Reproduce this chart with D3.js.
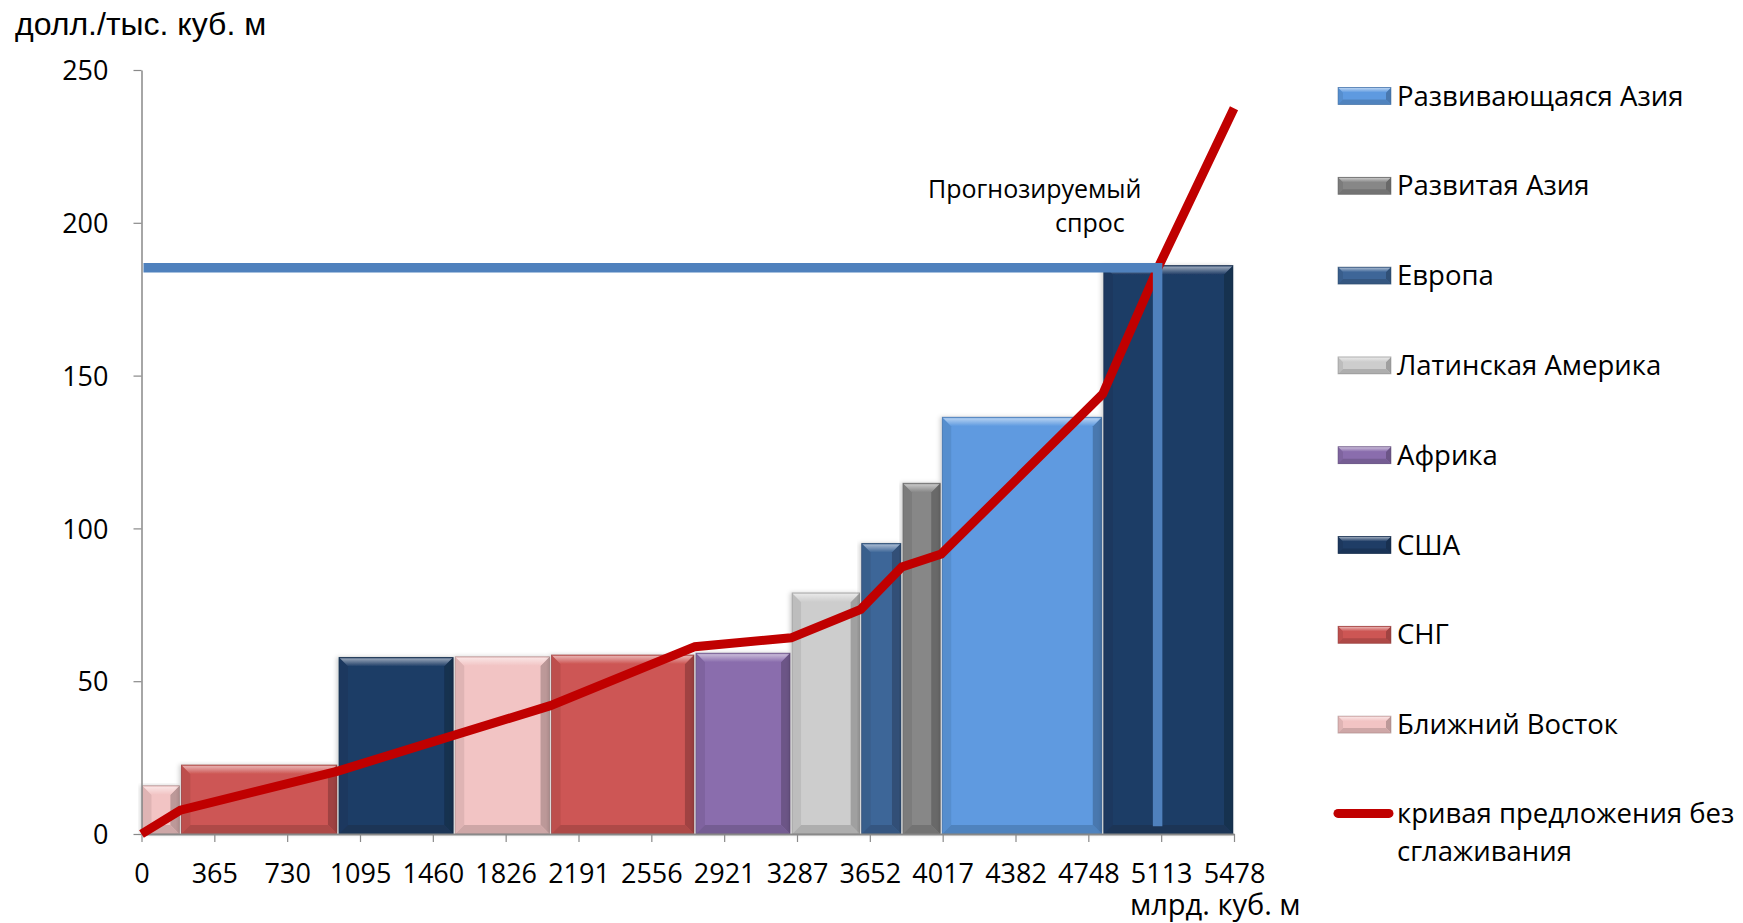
<!DOCTYPE html>
<html>
<head>
<meta charset="utf-8">
<script src="https://cdn.jsdelivr.net/npm/d3@7"></script>
<style>
  html, body { margin: 0; padding: 0; background: #ffffff; }
  svg { display: block; }
</style>
</head>
<body>
<script>
// ---------------- DATA ----------------
const regions = ["Ближний Восток", "СНГ", "США", "Ближний Восток", "СНГ", "Африка",
                 "Латинская Америка", "Европа", "Развитая Азия", "Развивающаяся Азия", "США"];
const volumes = [195, 790, 583, 483, 724, 482, 349, 207, 197, 810, 658];      // млрд. куб. м
const costs   = [15.8, 22.6, 57.8, 58.0, 58.6, 59.2, 78.9, 95.1, 114.8, 136.4, 186.0]; // долл./тыс. куб. м

const supplyX = [0, 195, 985, 2050, 2775, 3257, 3606, 3813, 4010, 4820, 5095, 5478];
const supplyY = [0, 7.8, 20.6, 42.0, 61.3, 64.2, 73.5, 87.4, 91.6, 144.0, 185.0, 237.5];

const demandX = [10, 5095, 5095];
const demandY = [185.3, 185.3, 2.5];

const xTickValues = [0, 365.2, 730.4, 1095.6, 1460.8, 1826, 2191.2, 2556.4, 2921.6, 3286.8, 3652, 4017.2, 4382.4, 4747.6, 5112.8, 5478];
const xTickLabels = ["0", "365", "730", "1095", "1460", "1826", "2191", "2556", "2921", "3287", "3652", "4017", "4382", "4748", "5113", "5478"];
const yTickValues = [0, 50, 100, 150, 200, 250];

const legendRegions = ["Развивающаяся Азия", "Развитая Азия", "Европа", "Латинская Америка",
                       "Африка", "США", "СНГ", "Ближний Восток"];
const regionColors  = ["#5E9AE0", "#878787", "#3E6698", "#CDCDCD",
                       "#8A6DAD", "#1F3D66", "#CD5654", "#F2C4C4"];
const supplyLabel = ["кривая предложения без", "сглаживания"];
const demandLabel = ["Прогнозируемый", "спрос"];
const yAxisTitle = "долл./тыс. куб. м";
const xAxisTitle = "млрд. куб. м";

// ---------------- SETUP ----------------
const W = 1743, H = 923;
const svg = d3.select("body").append("svg").attr("width", W).attr("height", H);
const defs = svg.append("defs");

const x = d3.scaleLinear().domain([0, 5478]).range([141.5, 1234]);
const y = d3.scaleLinear().domain([0, 250]).range([834, 70]);
const color = d3.scaleOrdinal().domain(legendRegions).range(regionColors);

const tickFont = "'Open Sans', 'Noto Sans', sans-serif";

// gradients per colour
regionColors.forEach((c, i) => {
  const light = d3.interpolateRgb(c, "#ffffff")(0.5);
  const g = defs.append("linearGradient").attr("id", "top" + i)
    .attr("x1", 0).attr("y1", 0).attr("x2", 0).attr("y2", 1);
  g.append("stop").attr("offset", "0%").attr("stop-color", d3.interpolateRgb(c, "#000")(0.05));
  g.append("stop").attr("offset", "18%").attr("stop-color", light);
  g.append("stop").attr("offset", "100%").attr("stop-color", c);
});
defs.append("filter").attr("id", "shadow").attr("x", "-10%").attr("y", "-5%").attr("width", "125%").attr("height", "115%")
  .append("feDropShadow").attr("dx", -2).attr("dy", 0).attr("stdDeviation", 2)
  .attr("flood-color", "#000").attr("flood-opacity", 0.18);

function bevel(g, x0, y0, x1, y1, c, b) {
  const i = regionColors.indexOf(c);
  const w = x1 - x0, h = y1 - y0;
  b = Math.min(b, w / 2, h / 2);
  g.append("rect").attr("x", x0).attr("y", y0).attr("width", w).attr("height", h).attr("fill", c);
  g.append("polygon").attr("points", [[x0, y0], [x0 + b, y0 + b], [x0 + b, y1 - b], [x0, y1]].join(" "))
    .attr("fill", d3.interpolateRgb(c, "#000")(0.08));
  g.append("polygon").attr("points", [[x1, y0], [x1 - b, y0 + b], [x1 - b, y1 - b], [x1, y1]].join(" "))
    .attr("fill", d3.interpolateRgb(c, "#000")(0.22));
  g.append("polygon").attr("points", [[x0, y1], [x0 + b, y1 - b], [x1 - b, y1 - b], [x1, y1]].join(" "))
    .attr("fill", d3.interpolateRgb(c, "#000")(0.15));
  g.append("polygon").attr("points", [[x0, y0], [x1, y0], [x1 - b, y0 + b], [x0 + b, y0 + b]].join(" "))
    .attr("fill", "url(#top" + i + ")");
  g.append("rect").attr("x", x0).attr("y", y0).attr("width", w).attr("height", h)
    .attr("fill", "none").attr("stroke", d3.interpolateRgb(c, "#000")(0.35)).attr("stroke-width", 0.8).attr("stroke-opacity", 0.6);
}

// ---------------- BARS ----------------
const starts = d3.cumsum([0].concat(volumes.slice(0, -1)));
const bars = regions.map((r, i) => ({ region: r, start: starts[i], end: starts[i] + volumes[i], cost: costs[i] }));
const barG = svg.append("g");
bars.forEach(d => {
  const g = barG.append("g").attr("filter", "url(#shadow)");
  bevel(g, x(d.start) + 1, y(d.cost), x(d.end) - 1, y(0), color(d.region), 9);
});

// ---------------- AXES ----------------
const axisColor = "#898989";
const yAxis = svg.append("g").attr("transform", `translate(${x(0)},0)`)
  .call(d3.axisLeft(y).tickValues(yTickValues).tickSize(8).tickSizeOuter(0).tickFormat(d3.format("d")));
yAxis.select(".domain").attr("stroke", axisColor).attr("stroke-width", 1.5);
yAxis.selectAll(".tick line").attr("stroke", axisColor).attr("stroke-width", 1.2);
yAxis.selectAll(".tick text").attr("x", -33).attr("dy", "0.36em")
  .attr("font-family", tickFont).attr("font-size", 27).attr("fill", "#000");

const xAxis = svg.append("g").attr("transform", `translate(0,${y(0)})`)
  .call(d3.axisBottom(x).tickValues(xTickValues).tickSize(8).tickSizeOuter(0).tickFormat((d, i) => xTickLabels[i]));
xAxis.select(".domain").attr("stroke", axisColor).attr("stroke-width", 2);
xAxis.selectAll(".tick line").attr("stroke", axisColor).attr("stroke-width", 1.2);
xAxis.selectAll(".tick text").attr("y", 49).attr("dy", null)
  .attr("font-family", tickFont).attr("font-size", 27).attr("fill", "#000");

// ---------------- LINES ----------------
const line = d3.line().x(d => x(d[0])).y(d => y(d[1]));
svg.append("path").datum(d3.zip(supplyX, supplyY))
  .attr("d", line).attr("fill", "none").attr("stroke", "#C00000")
  .attr("stroke-width", 9).attr("stroke-linejoin", "miter");

svg.append("path").datum(d3.zip(demandX, demandY))
  .attr("d", line).attr("fill", "none").attr("stroke", "#4F81BD")
  .attr("stroke-width", 9.5).attr("stroke-linejoin", "miter");

// ---------------- TEXT ----------------
svg.append("text").attr("x", 15).attr("y", 35)
  .attr("font-family", "'Liberation Sans', Arial, sans-serif").attr("font-size", 32)
  .text(yAxisTitle);

svg.append("text").attr("x", 1130).attr("y", 915)
  .attr("font-family", tickFont).attr("font-size", 29)
  .text(xAxisTitle);

svg.append("text").attr("x", 928).attr("y", 198)
  .attr("font-family", tickFont).attr("font-size", 25).text(demandLabel[0]);
svg.append("text").attr("x", 1055).attr("y", 232)
  .attr("font-family", tickFont).attr("font-size", 25).text(demandLabel[1]);

// ---------------- LEGEND ----------------
const legend = svg.append("g");
const rowY = i => 96 + i * 89.8;
const legendFont = 27.5;
legendRegions.forEach((r, i) => {
  const g = legend.append("g");
  bevel(g, 1338, rowY(i) - 8.5, 1391, rowY(i) + 8.5, color(r), 5);
  g.append("text").attr("x", 1397).attr("y", rowY(i) + 9.5)
    .attr("font-family", tickFont).attr("font-size", legendFont).text(r);
});
const ly = rowY(legendRegions.length) - 1;
legend.append("line").attr("x1", 1338).attr("x2", 1389).attr("y1", ly).attr("y2", ly)
  .attr("stroke", "#C00000").attr("stroke-width", 9).attr("stroke-linecap", "round");
legend.append("text").attr("x", 1397).attr("y", ly + 10)
  .attr("font-family", tickFont).attr("font-size", legendFont).text(supplyLabel[0]);
legend.append("text").attr("x", 1397).attr("y", ly + 48)
  .attr("font-family", tickFont).attr("font-size", legendFont).text(supplyLabel[1]);
</script>
</body>
</html>
